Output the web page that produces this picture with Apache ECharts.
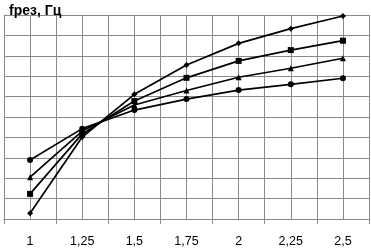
<!DOCTYPE html>
<html>
<head>
<meta charset="utf-8">
<script src="https://cdn.jsdelivr.net/npm/echarts@6/dist/echarts.min.js"></script>
<style>
  html, body { margin: 0; padding: 0; background: #fff; }
  #chart { width: 371px; height: 249px; }
</style>
</head>
<body>
<div id="chart"></div>
<script>
const categories = ['1', '1,25', '1,5', '1,75', '2', '2,25', '2,5']

const diamondVals  = [0.28, 4.02, 6.11, 7.55, 8.61, 9.33, 9.95]
const squareVals   = [1.23, 4.17, 5.78, 6.92, 7.75, 8.28, 8.74]
const triangleVals = [2.05, 4.31, 5.59, 6.3, 6.95, 7.39, 7.88]
const circleVals   = [2.89, 4.43, 5.34, 5.88, 6.32, 6.6, 6.9]

const GRID_COLOR = '#8a8a8a'

const chart = echarts.init(document.getElementById('chart'))

function lineSeries(data, symbol, size) {
  return {
    type: 'line', data, symbol, symbolSize: size,
    xAxisIndex: 0, yAxisIndex: 0,
    lineStyle: { color: '#000', width: 1.7 },
    itemStyle: { color: '#000' },
    animation: false,
  }
}

chart.setOption({
  animation: false,
  title: {
    text: 'fрез, Гц', left: 4, top: -1,
    textStyle: { fontFamily: 'Liberation Sans', fontSize: 14, fontWeight: 'bold', color: '#000' },
  },
  grid: { left: 4, right: 2, top: 15, bottom: 30 },
  xAxis: [
    {
      type: 'category', data: categories, boundaryGap: true,
      axisLine: { lineStyle: { color: GRID_COLOR, width: 1 } },
      axisTick: { show: true, length: 5, lineStyle: { color: GRID_COLOR } },
      axisLabel: { margin: 16, fontFamily: 'Liberation Sans', fontSize: 12.5, color: '#000' },
      splitLine: { show: false },
    },
    {
      type: 'value', min: 0.875, max: 2.625, interval: 0.125, position: 'bottom',
      axisLine: { show: false }, axisTick: { show: false }, axisLabel: { show: false },
      splitLine: { show: true, lineStyle: { color: GRID_COLOR, width: 1 } },
    },
  ],
  yAxis: {
    type: 'value', min: 0, max: 10, interval: 1,
    axisLine: { show: true, lineStyle: { color: GRID_COLOR } },
    axisTick: { show: false }, axisLabel: { show: false },
    splitLine: { show: true, lineStyle: { color: GRID_COLOR, width: 1 } },
  },
  series: [
    lineSeries(diamondVals, 'diamond', 6),
    lineSeries(squareVals, 'rect', 6),
    lineSeries(triangleVals, 'triangle', 6),
    lineSeries(circleVals, 'circle', 6),
  ],
})
</script>
</body>
</html>
